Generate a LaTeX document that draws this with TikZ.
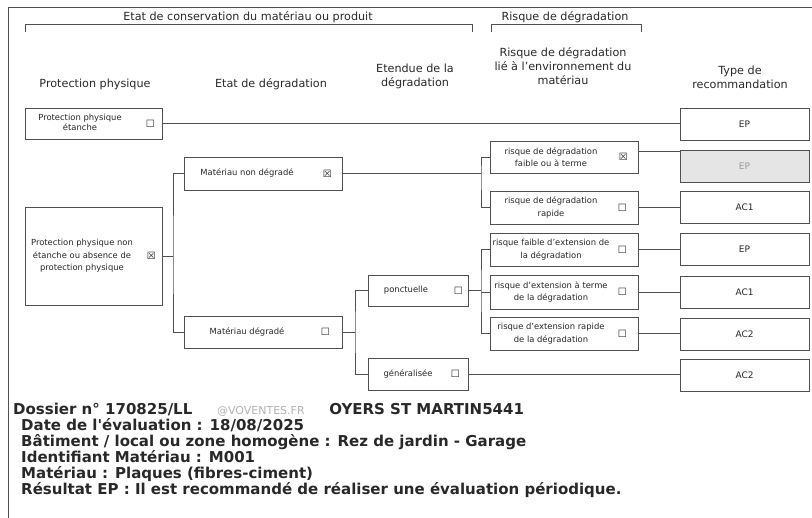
\documentclass[tikz,border=0pt]{standalone}
\usepackage{fontspec}
\setmainfont{DejaVu Sans}
\newfontfamily\symb{DejaVu Sans}
\newfontfamily\infofont{DejaVu Sans}
\usetikzlibrary{positioning,calc}

\definecolor{trait}{HTML}{505050}
\definecolor{texte}{HTML}{282828}

\tikzset{
  boite/.style={draw=trait, line width=0.9pt, fill=white, inner sep=0pt},
  lbl/.style={text=texte, align=center, font=\fontsize{8.4}{12.5}\selectfont, inner sep=0pt},
  entete/.style={text=texte, align=center, font=\fontsize{11.2}{14}\selectfont, inner sep=0pt},
  chk/.style={text=texte, font=\symb\fontsize{10}{10}\selectfont, inner sep=0pt},
  reco/.style={boite, minimum width=129pt, minimum height=32pt, text=texte, font=\fontsize{9}{10}\selectfont},
  lien/.style={draw=trait, line width=0.9pt},
}

\begin{document}
\begin{tikzpicture}[x=1pt, y=-1pt]
                \useasboundingbox (0,0) rectangle (812,518);

                % Cadre
                \draw[trait, line width=0.9pt] (8,518) -- (8,7) -- (812,7);

                % Accolades du haut
                \draw[lien] (25,32) -- (25,24) -- (472,24) -- (472,32);
                \draw[lien] (491,32) -- (491,24) -- (641,24) -- (641,32);
                \node[entete] (conserv) at (248,17) {Etat de conservation du matériau ou produit};
                \node[entete] (risque) at (565,17) {Risque de dégradation};

                % Titres des colonnes
                \node[entete] (h1) at (95,84) {Protection physique};
                \node[entete] (h2) at (271,84) {Etat de dégradation};
                \node[entete] (h3) at (415,76) {Etendue de la\\dégradation};
                \node[entete] (h4) at (563,66) {Risque de dégradation\\lié à l'environnement du\\matériau};
                \node[entete] (h5) at (740,77) {Type de\\recommandation};

                % Protection physique
                \node[boite, minimum width=137pt, minimum height=31pt] (B1) at (93.5,123.5) {};
                \node[lbl, font=\fontsize{8.4}{10.5}\selectfont] (B1t) at (80,122.5) {Protection physique\\étanche};
                \node[chk] (B1c) at ([xshift=-12pt]B1.east) {☐};
                \node[boite, minimum width=137pt, minimum height=98pt] (B2) at (93.5,256) {};
                \node[lbl] (B2t) at (82,256) {Protection physique non\\étanche ou absence de\\protection physique};
                \node[chk] (B2c) at ([xshift=-11pt]B2.east) {☒};

                % Etat de dégradation
                \node[boite, minimum width=158pt, minimum height=33pt] (C1) at (263,173.5) {};
                \node[lbl] (C1t) at (247,173.5) {Matériau non dégradé};
                \node[chk] (C1c) at ([xshift=-15pt]C1.east) {☒};
                \node[boite, minimum width=158pt, minimum height=32pt] (C2) at (263,332) {};
                \node[lbl] (C2t) at (247,332) {Matériau dégradé};
                \node[chk] (C2c) at ([xshift=-17pt]C2.east) {☐};

                % Etendue de la dégradation
                \node[boite, minimum width=100pt, minimum height=31pt] (D1) at (418,290.5) {};
                \node[lbl] (D1t) at (406,290.5) {ponctuelle};
                \node[chk] (D1c) at ([xshift=-10pt]D1.east) {☐};
                \node[boite, minimum width=100pt, minimum height=32pt] (D2) at (418,374) {};
                \node[lbl] (D2t) at (408,374) {généralisée};
                \node[chk] (D2c) at ([xshift=-13pt]D2.east) {☐};

                % Risque lié à l'environnement
                \node[boite, minimum width=148pt, minimum height=32pt] (E1) at (564,157) {};
                \node[lbl] (E1t) at (551,157) {risque de dégradation\\faible ou à terme};
                \node[chk] (E1c) at ([xshift=-15pt]E1.east) {☒};
                \node[boite, minimum width=148pt, minimum height=33pt] (E2) at (564,207.5) {};
                \node[lbl] (E2t) at (551,207.5) {risque de dégradation\\rapide};
                \node[chk] (E2c) at ([xshift=-16pt]E2.east) {☐};
                \node[boite, minimum width=148pt, minimum height=33pt] (E3) at (564,249.5) {};
                \node[lbl] (E3t) at (551,249.5) {risque faible d'extension de\\la dégradation};
                \node[chk] (E3c) at ([xshift=-16pt]E3.east) {☐};
                \node[boite, minimum width=148pt, minimum height=34pt] (E4) at (564,292) {};
                \node[lbl] (E4t) at (551,292) {risque d'extension à terme\\de la dégradation};
                \node[chk] (E4c) at ([xshift=-16pt]E4.east) {☐};
                \node[boite, minimum width=148pt, minimum height=33pt] (E5) at (564,333.5) {};
                \node[lbl] (E5t) at (551,333.5) {risque d'extension rapide\\de la dégradation};
                \node[chk] (E5c) at ([xshift=-16pt]E5.east) {☐};

                % Type de recommandation
                \node[reco] (F1) at (744.5,124) {EP};
                \node[reco, fill=black!10, text=black!40] (F2) at (744.5,166) {EP};
                \foreach \nom/\y/\t in {F3/207.5/AC1, F4/249.5/EP, F5/292.5/AC1, F6/334/AC2, F7/375.5/AC2} {
                    \node[reco] (\nom) at (744.5,\y) {\t};
                }

                % Liaisons
                \coordinate (J1) at (173,256);
                \coordinate (J2) at (481,173.5);
                \coordinate (J3) at (355,332);
                \coordinate (J4) at (481,290.5);
                \draw[lien] (B1.east) -- (B1.east -| F1.west);
                \draw[lien] (B2.east) -- (J1);
                \draw[lien] (C1.west) -| (J1) |- (C2.west);
                \draw[lien] (C1.east) -- (J2);
                \draw[lien] (E1.west) -| (J2) |- (E2.west);
                \draw[lien] (C2.east) -- (J3);
                \draw[lien] (D1.west) -| (J3) |- (D2.west);
                \draw[lien] (D1.east) -- (J4);
                \draw[lien] (E3.west) -| (J4) |- (E5.west);
                \draw[lien] (J4 |- E4.west) -- (E4.west);
                \draw[lien] ([yshift=6pt]E1.east) -- ([yshift=6pt]E1.east -| F2.west);
                \draw[lien] (E2.east) -- (E2.east -| F3.west);
                \draw[lien] (E3.east) -- (E3.east -| F4.west);
                \draw[lien] (E4.east) -- (E4.east -| F5.west);
                \draw[lien] (E5.east) -- (E5.east -| F6.west);
                \draw[lien] (D2.east) -- (D2.east -| F7.west);

                % Informations du dossier
                \node[anchor=north west, align=left, inner sep=0pt, text=texte,
                      font=\infofont\bfseries\fontsize{15}{16}\selectfont] (infos) at (13,403)
                  {Dossier n° 170825/LL\makebox[137pt][c]{\mdseries\color{black!30}\fontsize{11}{11}\selectfont @VOVENTES.FR}OYERS ST MARTIN5441\\
                   \hspace*{8pt}Date de l'évaluation : 18/08/2025\\
                   \hspace*{8pt}Bâtiment / local ou zone homogène : Rez de jardin - Garage\\
                   \hspace*{8pt}Identifiant Matériau : M001\\
                   \hspace*{8pt}Matériau : Plaques (fibres-ciment)\\
                   \hspace*{8pt}Résultat EP : Il est recommandé de réaliser une évaluation périodique.};
\end{tikzpicture}
\end{document}
